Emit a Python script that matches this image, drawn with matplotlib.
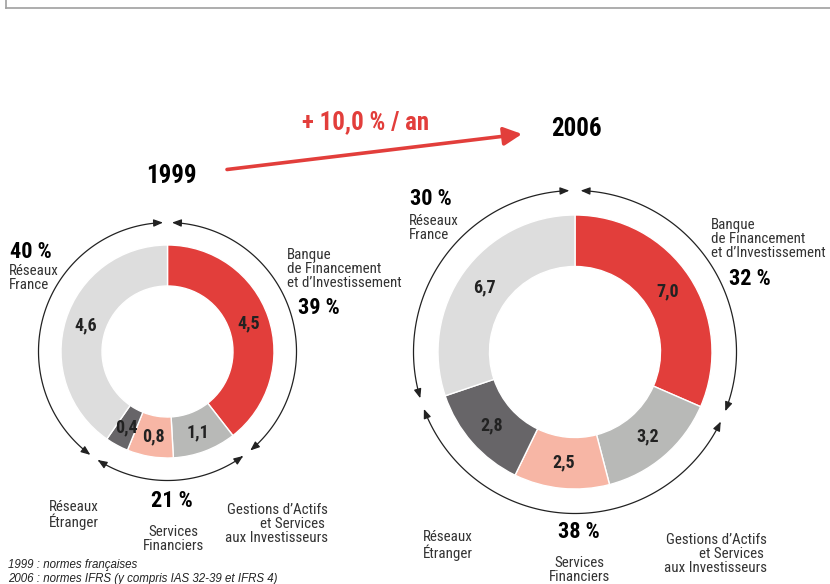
import numpy as np
import matplotlib
matplotlib.use('Agg')
import matplotlib.pyplot as plt
from matplotlib.patches import FancyArrowPatch
from matplotlib.path import Path

# données (Mds EUR)
segments = ['Banque de Financement et d’Investissement',
            'Gestions d’Actifs et Services aux Investisseurs',
            'Services Financiers', 'Réseaux Étranger', 'Réseaux France']
colors = ['#e23e3b', '#b8b9b7', '#f7b6a5', '#676568', '#dddddd']
values_1999 = [4.5, 1.1, 0.8, 0.4, 4.6]
values_2006 = [7.0, 3.2, 2.5, 2.8, 6.7]
labels_1999 = ['4,5', '1,1', '0,8', '0,4', '4,6']
labels_2006 = ['7,0', '3,2', '2,5', '2,8', '6,7']
groups = [[0], [1, 2, 3], [4]]
pct_1999 = ['39 %', '21 %', '40 %']
pct_2006 = ['32 %', '38 %', '30 %']
growth = '+ 10,0 % / an'

W, H = 830, 584
NARROW = ['Roboto Condensed', 'Barlow Semi Condensed', 'Liberation Sans', 'DejaVu Sans']
RED = '#e23e3b'


def Y(y):
    # coordonnées pixel (haut -> bas) vers coordonnées données
    return H - y


def donut(ax, values, labels, cx, cy, r_out, r_in, r_arc, lab_fs):
    ax.pie(values, colors=colors, center=(cx, Y(cy)), radius=r_out,
           startangle=90, counterclock=False,
           wedgeprops=dict(width=r_out - r_in, edgecolor='white', linewidth=1))
    total = sum(values)
    bounds = 90 - 360 * np.concatenate([[0], np.cumsum(values)]) / total
    r_lab = (r_out + r_in) / 2
    for i, lab in enumerate(labels):
        a = np.radians((bounds[i] + bounds[i + 1]) / 2)
        ax.text(cx + r_lab * np.cos(a), Y(cy) + r_lab * np.sin(a), lab,
                ha='center', va='center', fontsize=lab_fs, fontweight='bold',
                color='#222222', family=NARROW)
    # arcs avec flèches
    gap = 2.0
    for g in groups:
        a0 = bounds[g[0]] - gap
        a1 = bounds[g[-1] + 1] + gap
        t = np.radians(np.linspace(a0, a1, 120))
        verts = np.column_stack([cx + r_arc * np.cos(t), Y(cy) + r_arc * np.sin(t)])
        arr = FancyArrowPatch(path=Path(verts),
                              arrowstyle='<|-|>,head_length=0.55,head_width=0.22',
                              mutation_scale=10, lw=0.9, color='#222222')
        ax.add_patch(arr)


fig = plt.figure(figsize=(W / 100, H / 100), dpi=100)
ax = fig.add_axes([0, 0, 1, 1])

donut(ax, values_1999, labels_1999, 167.5, 351.5, 106.5, 65.5, 129, 13)
donut(ax, values_2006, labels_2006, 575, 352, 137, 85.5, 161.5, 13)

ax.set_xlim(0, W)
ax.set_ylim(0, H)
ax.set_aspect('equal')
ax.axis('off')

# cadre du haut
ax.plot([5.5, W], [Y(8), Y(8)], color='#a0a0a0', lw=1.2)
ax.plot([5.5, 5.5], [Y(0), Y(8)], color='#a0a0a0', lw=1.2)

# flèche de croissance
ax.annotate('', xy=(522, Y(134)), xytext=(227, Y(169.5)),
            arrowprops=dict(arrowstyle='-|>,head_length=1.1,head_width=0.55',
                            mutation_scale=10, lw=2.6, color=RED,
                            shrinkA=0, shrinkB=0))
ax.text(366, Y(122), growth, ha='center', va='center', fontsize=18,
        fontweight='bold', color=RED, family=NARROW)

ax.text(171, Y(176), '1999', ha='center', va='center', fontsize=18,
        fontweight='bold', family=NARROW)
ax.text(576, Y(129), '2006', ha='center', va='center', fontsize=18,
        fontweight='bold', family=NARROW)

txt = dict(fontsize=10.8, color='#333333', family=NARROW, va='center', linespacing=1.0)
big = dict(fontsize=16, fontweight='bold', family=NARROW, va='center')

# 1999
ax.text(10, Y(252), pct_1999[2], ha='left', **big)
ax.text(9, Y(278), 'Réseaux\nFrance', ha='left', **txt)
ax.text(287, Y(269), 'Banque\nde Financement\net d’Investissement', ha='left', **txt)
ax.text(298, Y(308), pct_1999[0], ha='left', **big)
ax.text(172, Y(501), pct_1999[1], ha='center', **big)
ax.text(49, Y(515), 'Réseaux\nÉtranger', ha='left', **txt)
ax.text(173, Y(539.5), 'Services\nFinanciers', ha='center', **txt)
ax.text(328, Y(523.5), 'Gestions d’Actifs\net Services \naux Investisseurs',
        ha='right', multialignment='right', **txt)

# 2006
ax.text(410, Y(199), pct_2006[2], ha='left', **big)
ax.text(409, Y(228), 'Réseaux\nFrance', ha='left', **txt)
ax.text(711, Y(239), 'Banque\nde Financement\net d’Investissement', ha='left', **txt)
ax.text(729, Y(279), pct_2006[0], ha='left', **big)
ax.text(579, Y(532), pct_2006[1], ha='center', **big)
ax.text(423, Y(545.5), 'Réseaux\nÉtranger', ha='left', **txt)
ax.text(579, Y(570), 'Services\nFinanciers', ha='center', **txt)
ax.text(767, Y(554), 'Gestions d’Actifs\net Services \naux Investisseurs',
        ha='right', multialignment='right', **txt)

# notes
note = dict(fontsize=8.3, style='italic', color='#222222',
            family=['Liberation Sans', 'DejaVu Sans'], ha='left', va='center')
ax.text(8, Y(565), '1999 : normes françaises', **note)
ax.text(8, Y(579), '2006 : normes IFRS (y compris IAS 32-39 et IFRS 4)', **note)

fig.savefig('out.png', dpi=100)
